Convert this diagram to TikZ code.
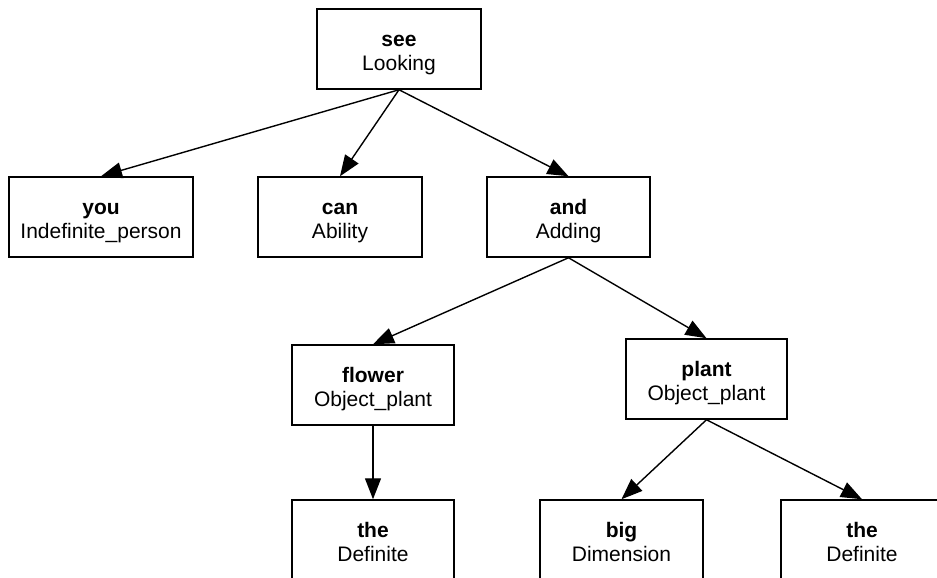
\documentclass[tikz,border=0pt]{standalone}
\usepackage{fontspec}
\setmainfont{Liberation Sans}
\usetikzlibrary{arrows.meta}
% bold word over its frame name, set a little below the box centre
\newcommand\wordframe[2]{\raisebox{-4.5pt}[\height][\depth]{%
  \begin{tabular}{@{}c@{}}\textbf{#1}\\#2\end{tabular}}}
\begin{document}
\begin{tikzpicture}[x=1pt,y=-1pt,
  wordbox/.style={draw, line width=1.5pt, rectangle,
    minimum height=80pt, inner sep=0pt,
    font=\fontsize{21}{24}\selectfont},
  link/.style={line width=1.4pt, -{Triangle[length=21pt,width=16pt]}}]
  \useasboundingbox (0,0) rectangle (937,578);

  % frame nodes
  \node[wordbox, minimum width=164pt] (see)    at (399,49)    {\wordframe{see}{Looking}};
  \node[wordbox, minimum width=184pt] (you)    at (101,217)   {\wordframe{you}{Indefinite\_person}};
  \node[wordbox, minimum width=164pt] (can)    at (340,217)   {\wordframe{can}{Ability}};
  \node[wordbox, minimum width=163pt] (and)    at (568.5,217) {\wordframe{and}{Adding}};
  \node[wordbox, minimum width=162pt] (flower) at (373,385)   {\wordframe{flower}{Object\_plant}};
  \node[wordbox, minimum width=161pt] (plant)  at (706.5,379) {\wordframe{plant}{Object\_plant}};
  \node[wordbox, minimum width=162pt] (theA)   at (373,540)   {\wordframe{the}{Definite}};
  \node[wordbox, minimum width=163pt] (big)    at (621.5,540) {\wordframe{big}{Dimension}};
  \node[wordbox, minimum width=162pt] (theB)   at (862,540)   {\wordframe{the}{Definite}};

  % dependency arrows, parent bottom to child top
  \draw[link] (see.south)    -- (you.north);
  \draw[link] (see.south)    -- (can.north);
  \draw[link] (see.south)    -- (and.north);
  \draw[link] (and.south)    -- (flower.north);
  \draw[link] (and.south)    -- (plant.north);
  \draw[link] (flower.south) -- (theA.north);
  \draw[link] (plant.south)  -- (big.north);
  \draw[link] (plant.south)  -- (theB.north);
\end{tikzpicture}
\end{document}
